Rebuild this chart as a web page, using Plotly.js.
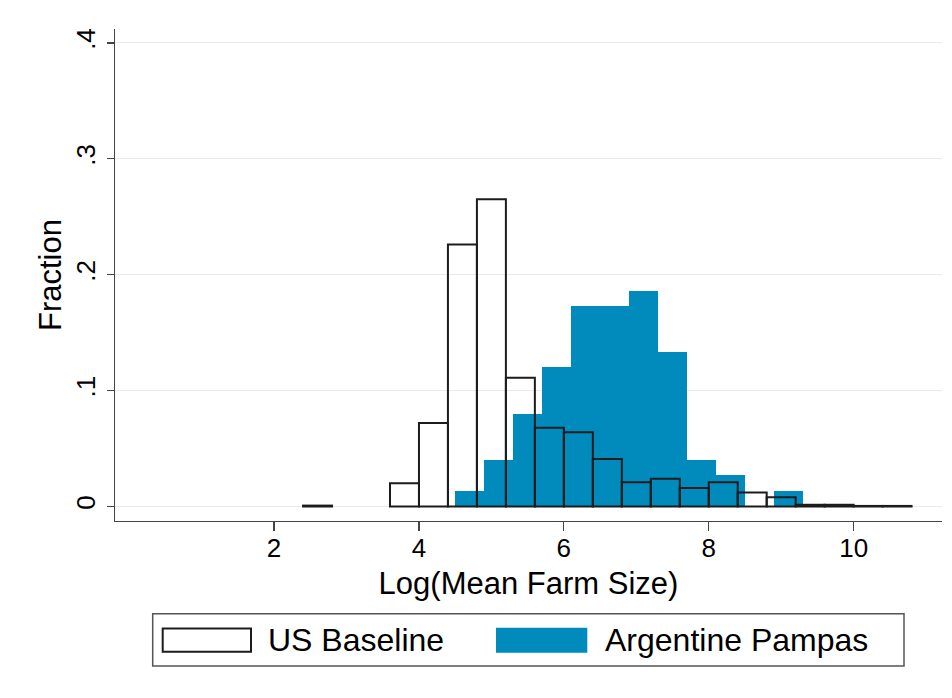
<!DOCTYPE html>
<html>
<head>
<meta charset="utf-8">
<script src="https://cdn.plot.ly/plotly-3.0.1.min.js"></script>
<style>
  html, body { margin: 0; padding: 0; background: #ffffff; }
  #chart { width: 952px; height: 698px; }
</style>
</head>
<body>
<div id="chart"></div>
<script>
// ---- Data ----
const usName = "US Baseline";
const usBinStart = [2.4, 3.6, 4.0, 4.4, 4.8, 5.2, 5.6, 6.0, 6.4, 6.8, 7.2, 7.6, 8.0, 8.4, 8.8, 9.2, 9.6, 10.0, 10.4];
const usFraction = [0.0008, 0.020, 0.072, 0.226, 0.265, 0.111, 0.068, 0.064, 0.041, 0.021, 0.024, 0.016, 0.021, 0.012, 0.008, 0.0015, 0.0015, 0.0005, 0.0005];

const arName = "Argentine Pampas";
const arBinStart = [4.5, 4.9, 5.3, 5.7, 6.1, 6.5, 6.9, 7.3, 7.7, 8.1, 8.5, 8.9];
const arFraction = [0.013, 0.040, 0.080, 0.120, 0.173, 0.173, 0.186, 0.133, 0.040, 0.027, 0, 0.013];

const binWidth = 0.4;

const xTickVals = [2, 4, 6, 8, 10];
const xTickText = ["2", "4", "6", "8", "10"];
const yTickVals = [0, 0.1, 0.2, 0.3, 0.4];
const yTickText = ["0", ".1", ".2", ".3", ".4"];

const xTitle = "Log(Mean Farm Size)";
const yTitle = "Fraction";

// ---- Styling ----
const FONT = "Liberation Sans, Arial, Helvetica, sans-serif";
const BLUE = "rgb(0,139,188)";
const W = 952, H = 698;
const M = { l: 115, r: 10, t: 29, b: 176.5 };
const plotW = W - M.l - M.r, plotH = H - M.t - M.b;
const px2x = px => (px - M.l) / plotW;
const px2y = py => (H - M.b - py) / plotH;

const traces = [
  {
    type: "bar",
    name: arName,
    x: arBinStart,
    y: arFraction,
    width: arBinStart.map(() => binWidth),
    offset: 0,
    marker: { color: BLUE, line: { width: 0 } },
    showlegend: false,
    hoverinfo: "x+y"
  },
  {
    type: "bar",
    name: usName,
    x: usBinStart,
    y: usFraction,
    width: usBinStart.map(() => binWidth),
    offset: 0,
    marker: { color: "rgba(255,255,255,0)", line: { color: "#1c1c1c", width: 2 } },
    showlegend: false,
    hoverinfo: "x+y"
  }
];

const layout = {
  width: W,
  height: H,
  margin: M,
  paper_bgcolor: "#ffffff",
  plot_bgcolor: "#ffffff",
  barmode: "overlay",
  bargap: 0,
  font: { family: FONT, color: "#000000" },
  xaxis: {
    range: [-0.196, 11.22],
    tickvals: xTickVals,
    ticktext: xTickText,
    ticks: "outside",
    ticklen: 9,
    tickwidth: 1.3,
    tickcolor: "#444444",
    tickfont: { family: FONT, size: 26, color: "#000000" },
    ticklabelstandoff: -6,
    showgrid: false,
    zeroline: false,
    showline: true,
    linecolor: "#444444",
    linewidth: 1.3,
    title: { text: xTitle, font: { family: FONT, size: 31, color: "#000000" }, standoff: 10 },
    automargin: false
  },
  yaxis: {
    range: [-0.0125, 0.412],
    tickvals: yTickVals,
    ticktext: yTickText,
    tickangle: -90,
    ticks: "outside",
    ticklen: 7,
    tickwidth: 1.3,
    tickcolor: "#444444",
    tickfont: { family: FONT, size: 26, color: "#000000" },
    ticklabelstandoff: 1,
    showgrid: true,
    gridcolor: "#e4ecef",
    gridwidth: 1,
    zeroline: false,
    showline: true,
    linecolor: "#444444",
    linewidth: 1.3,
    title: { text: yTitle, font: { family: FONT, size: 31, color: "#000000" }, standoff: 0 },
    automargin: false
  },
  showlegend: false,
  shapes: [
    // legend frame
    { type: "rect", xref: "paper", yref: "paper",
      x0: px2x(152.7), x1: px2x(904), y0: px2y(666.7), y1: px2y(614.3),
      line: { color: "#555555", width: 1.5 }, fillcolor: "rgba(255,255,255,0)" },
    // US key
    { type: "rect", xref: "paper", yref: "paper",
      x0: px2x(162.7), x1: px2x(251), y0: px2y(652.3), y1: px2y(629),
      line: { color: "#1c1c1c", width: 2 }, fillcolor: "#ffffff" },
    // Argentine key
    { type: "rect", xref: "paper", yref: "paper",
      x0: px2x(496), x1: px2x(587.3), y0: px2y(653.3), y1: px2y(628.3),
      line: { width: 0 }, fillcolor: BLUE }
  ],
  annotations: [
    { xref: "paper", yref: "paper", x: px2x(266), y: px2y(641),
      xanchor: "left", yanchor: "middle", showarrow: false,
      text: usName, font: { family: FONT, size: 32, color: "#000000" } },
    { xref: "paper", yref: "paper", x: px2x(603), y: px2y(641),
      xanchor: "left", yanchor: "middle", showarrow: false,
      text: arName, font: { family: FONT, size: 32, color: "#000000" } }
  ]
};

Plotly.newPlot("chart", traces, layout, { staticPlot: true, displayModeBar: false });
</script>
</body>
</html>
